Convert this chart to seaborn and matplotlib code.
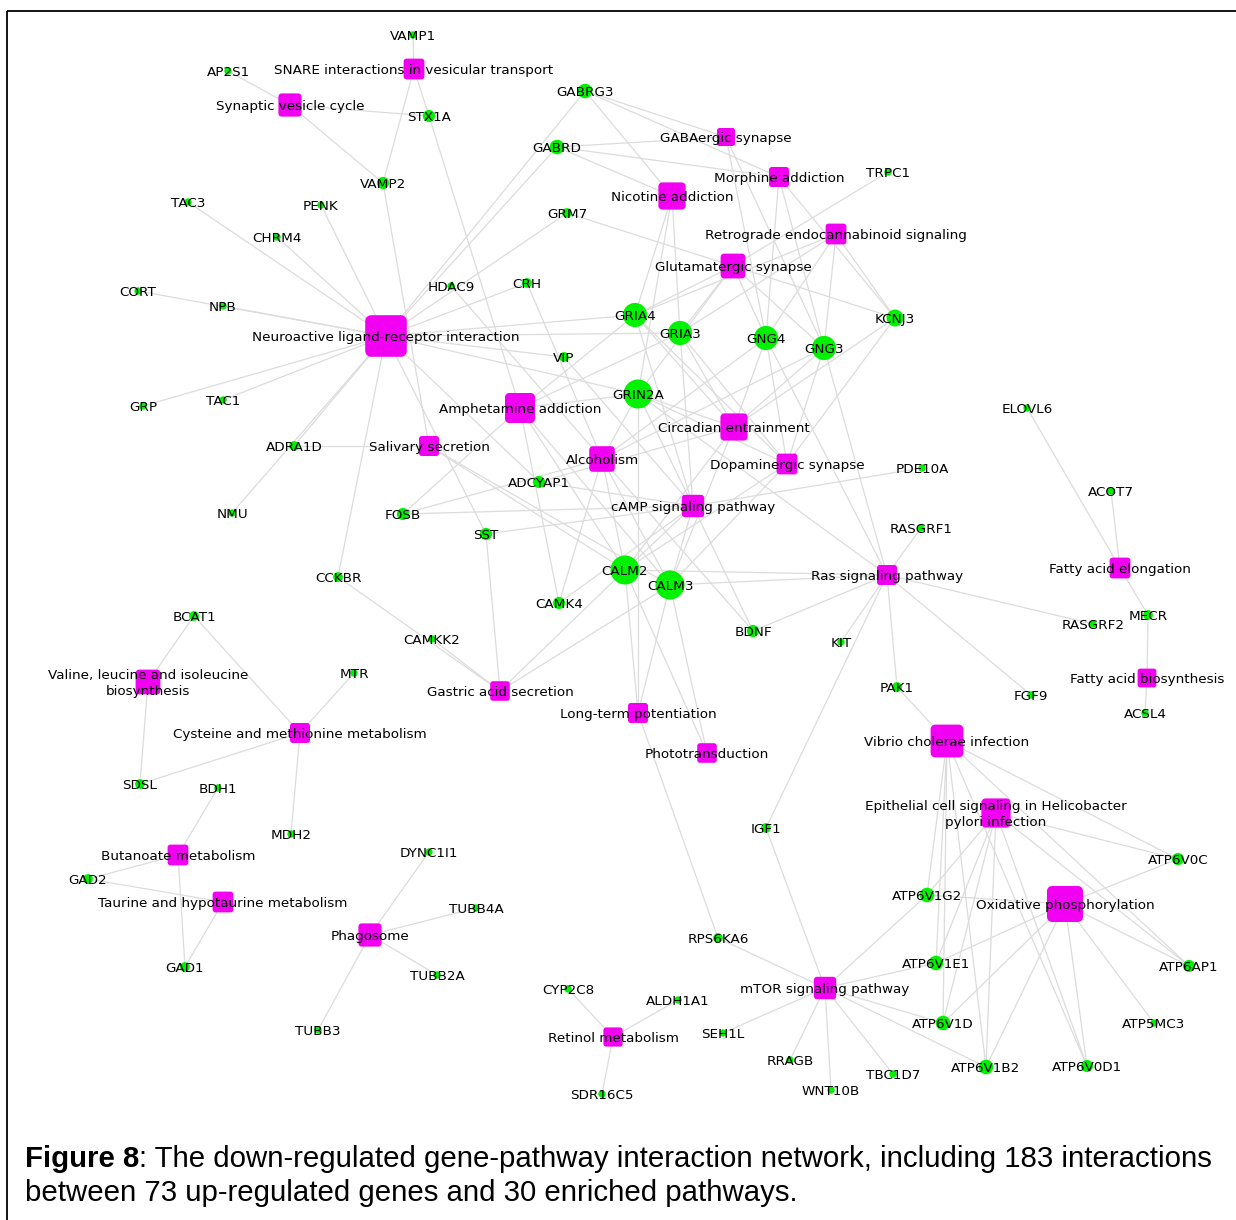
import numpy as np
import pandas as pd
import matplotlib.pyplot as plt
import seaborn as sns
from matplotlib.patches import Rectangle

# gene nodes: layout coordinates of the network view (pixels)
gene_names = ["VAMP1", "AP2S1", "STX1A", "VAMP2", "TAC3", "PENK", "CHRM4", "CORT", "NPB",
              "GRP", "TAC1", "ADRA1D", "NMU", "CCKBR", "BCAT1", "MTR", "SDSL", "BDH1", "MDH2",
              "GAD2", "GAD1", "DYNC1I1", "TUBB4A", "TUBB2A", "TUBB3", "GABRG3", "GABRD",
              "GRM7", "HDAC9", "CRH", "VIP", "GRIA4", "GRIA3", "GNG4", "GNG3", "KCNJ3", "TRPC1",
              "GRIN2A", "ADCYAP1", "FOSB", "SST", "CALM2", "CALM3", "CAMK4", "CAMKK2", "BDNF",
              "PDE10A", "RASGRF1", "KIT", "PAK1", "FGF9", "RASGRF2", "ELOVL6", "ACOT7", "MECR",
              "ACSL4", "IGF1", "RPS6KA6", "CYP2C8", "ALDH1A1", "SEH1L", "RRAGB", "WNT10B",
              "TBC1D7", "SDR16C5", "ATP6V1G2", "ATP6V1E1", "ATP6V1D", "ATP6V1B2", "ATP6V0D1",
              "ATP6V0C", "ATP6AP1", "ATP5MC3"]
gene_x = [413, 228, 429, 383, 188, 321, 277, 138, 223,
          143, 223, 294, 232, 338, 194, 354, 140, 218, 291,
          88, 185, 429, 476, 437, 318, 585, 557,
          567, 451, 527, 564, 635, 680, 766, 824, 895, 888,
          638, 539, 403, 486, 625, 670, 559, 432, 753,
          922, 921, 841, 897, 1031, 1093, 1027, 1111, 1148,
          1145, 766, 718, 568, 678, 723, 790, 831,
          893, 602, 927, 936, 943, 986, 1087,
          1178, 1189, 1154]
gene_y = [35, 71, 116, 183, 202, 205, 237, 291, 306,
          406, 400, 446, 513, 577, 616, 673, 784, 788, 834,
          879, 967, 852, 908, 975, 1030, 91, 147,
          213, 286, 283, 357, 315, 333, 338, 348, 318, 172,
          394, 482, 514, 534, 570, 585, 603, 639, 631,
          468, 528, 642, 687, 695, 624, 408, 491, 615,
          713, 828, 938, 989, 1000, 1033, 1060, 1090,
          1074, 1094, 895, 963, 1023, 1067, 1066,
          859, 966, 1023]

# pathway nodes
pathway_names = ["SNARE interactions in vesicular transport", "Synaptic vesicle cycle",
                 "Neuroactive ligand-receptor interaction", "Nicotine addiction",
                 "GABAergic synapse", "Morphine addiction", "Retrograde endocannabinoid signaling",
                 "Glutamatergic synapse", "Circadian entrainment", "Dopaminergic synapse",
                 "cAMP signaling pathway", "Amphetamine addiction", "Alcoholism",
                 "Salivary secretion", "Gastric acid secretion", "Long-term potentiation",
                 "Phototransduction", "Ras signaling pathway", "Fatty acid elongation",
                 "Fatty acid biosynthesis", "Valine, leucine and isoleucine\nbiosynthesis",
                 "Cysteine and methionine metabolism", "Butanoate metabolism",
                 "Taurine and hypotaurine metabolism", "Phagosome", "Retinol metabolism",
                 "mTOR signaling pathway", "Vibrio cholerae infection",
                 "Epithelial cell signaling in Helicobacter\npylori infection",
                 "Oxidative phosphorylation"]
pathway_x = [414, 290, 386, 672, 726, 779, 836, 733, 734, 787,
             693, 520, 602, 429, 500, 638, 707, 887, 1120, 1147,
             148, 300, 178, 223, 370, 613, 825, 947, 996, 1065]
pathway_y = [69, 105, 336, 196, 137, 177, 234, 266, 427, 464,
             506, 408, 459, 446, 691, 713, 753, 575, 568, 678,
             682, 733, 855, 902, 935, 1037, 988, 741, 813, 904]
pathway_score = [2.6, 2.9, 5.2, 3.4, 2.25, 2.5, 2.6, 3.1, 3.4, 2.6,
                 2.8, 3.75, 3.2, 2.5, 2.45, 2.5, 2.45, 2.5, 2.6, 2.35,
                 3.1, 2.5, 2.6, 2.6, 2.9, 2.4, 2.8, 4.1, 3.65, 4.5]

# genes of each pathway (same order as pathway_names)
pathway_members = [
    "VAMP1 VAMP2 STX1A",
    "AP2S1 VAMP2 STX1A",
    "TAC3 PENK CHRM4 CORT NPB GRP TAC1 ADRA1D NMU CCKBR GABRG3 GABRD GRM7 CRH VIP GRIA4 GRIA3 GRIN2A SST ADCYAP1",
    "GABRD GABRG3 GRIA4 GRIA3 GRIN2A",
    "GABRD GABRG3 GNG4 GNG3",
    "GABRD GABRG3 GNG4 GNG3 KCNJ3",
    "GRIA4 GRIA3 GNG4 GNG3 KCNJ3",
    "GRIA4 GRIA3 GRIN2A GNG4 GNG3 GRM7 TRPC1 KCNJ3",
    "GRIA4 GRIA3 GRIN2A GNG4 GNG3 CALM2 CALM3 KCNJ3 ADCYAP1",
    "GRIA4 GRIA3 GRIN2A GNG4 GNG3 CALM2 CALM3 KCNJ3",
    "GRIA4 GRIA3 GRIN2A CALM2 CALM3 PDE10A VIP SST ADCYAP1 FOSB CAMK4 BDNF",
    "STX1A GRIA4 GRIA3 GRIN2A CALM2 CALM3 CAMK4 FOSB",
    "GRIN2A CALM2 CALM3 GNG4 GNG3 FOSB BDNF HDAC9 CAMK4 CRH",
    "ADRA1D VAMP2 CALM2 CALM3",
    "CALM2 CALM3 SST CCKBR CAMKK2",
    "GRIN2A CALM2 CALM3 RPS6KA6",
    "CALM2 CALM3",
    "CALM2 CALM3 GNG4 GNG3 RASGRF1 RASGRF2 KIT PAK1 FGF9 IGF1 GRIN2A BDNF",
    "ELOVL6 ACOT7 MECR",
    "MECR ACSL4",
    "BCAT1 SDSL",
    "BCAT1 MTR SDSL MDH2",
    "BDH1 GAD2 GAD1",
    "GAD2 GAD1",
    "DYNC1I1 TUBB4A TUBB2A TUBB3",
    "CYP2C8 ALDH1A1 SDR16C5",
    "IGF1 RPS6KA6 SEH1L RRAGB WNT10B TBC1D7 ATP6V1G2 ATP6V1E1 ATP6V1D ATP6V1B2",
    "ATP6V1G2 ATP6V1E1 ATP6V1D ATP6V1B2 ATP6V0D1 ATP6V0C ATP6AP1 PAK1",
    "ATP6V1G2 ATP6V1E1 ATP6V1D ATP6V1B2 ATP6V0D1 ATP6V0C ATP6AP1",
    "ATP6V1G2 ATP6V1E1 ATP6V1D ATP6V1B2 ATP6V0D1 ATP6V0C ATP6AP1 ATP5MC3",
]

caption_bold = "Figure 8"
caption_line1 = ": The down-regulated gene-pathway interaction network, including 183 interactions"
caption_line2 = "between 73 up-regulated genes and 30 enriched pathways."


# Build node and edge tables
genes = pd.DataFrame({"name": gene_names, "x": gene_x, "y": gene_y})
paths = pd.DataFrame({"name": pathway_names, "x": pathway_x, "y": pathway_y, "score": pathway_score})
gpos = genes.set_index("name")

rows = []
for i, (pname, members) in enumerate(zip(pathway_names, pathway_members)):
    for g in members.split():
        eid = f"{i}-{g}"
        rows.append({"edge": eid, "x": pathway_x[i], "y": pathway_y[i]})
        rows.append({"edge": eid, "x": gpos.loc[g, "x"], "y": gpos.loc[g, "y"]})
edges = pd.DataFrame(rows)

degree = pd.Series(" ".join(pathway_members).split()).value_counts()
genes["degree"] = genes["name"].map(degree).fillna(1)

# marker sizes (points^2); 1 px = 0.72 pt at 100 dpi
genes["s"] = ((5.0 + 2.4 * genes["degree"]) * 0.72) ** 2
paths["s"] = ((8.0 * paths["score"]) * 0.72) ** 2


def rounded_square(r=0.28, n=8):
    t = np.linspace(0, np.pi / 2, n)
    pts = []
    for cx, cy, a0 in [(1 - r, 1 - r, 0), (-1 + r, 1 - r, np.pi / 2),
                       (-1 + r, -1 + r, np.pi), (1 - r, -1 + r, 1.5 * np.pi)]:
        for a in a0 + t:
            pts.append((cx + r * np.cos(a), cy + r * np.sin(a)))
    return pts


sns.set_style("white")
plt.rcParams["font.family"] = ["DejaVu Sans"]
plt.rcParams["text.color"] = "black"

fig = plt.figure(figsize=(12.36, 12.20), dpi=100)
ax = fig.add_axes([0, 0, 1, 1])

sns.lineplot(data=edges, x="x", y="y", units="edge", estimator=None, sort=False,
             color="#dcdcdc", lw=0.9, ax=ax, legend=False, zorder=1)
sns.scatterplot(data=paths, x="x", y="y", s=paths["s"].values, marker=rounded_square(),
                color="#f200f2", edgecolor="none", linewidth=0, ax=ax, legend=False, zorder=2)
sns.scatterplot(data=genes, x="x", y="y", s=genes["s"].values, marker="o",
                color="#00f200", edgecolor="none", linewidth=0, ax=ax, legend=False, zorder=3)

# labels are centred on the nodes (nudged 1.5 px down to match cap-height centring)
for _, r in genes.iterrows():
    ax.text(r["x"], r["y"] + 1.5, r["name"], ha="center", va="center", fontsize=9.7,
            color="black", zorder=4)
for _, r in paths.iterrows():
    ax.text(r["x"], r["y"] + 1.5, r["name"], ha="center", va="center", fontsize=9.7,
            color="black", linespacing=1.25, multialignment="center", zorder=4)

# frame around the figure panel
ax.add_patch(Rectangle((7, 11), 1300, 1300, fill=False, ec="black", lw=1.3, zorder=5))

# caption
t1 = ax.text(25, 1167, caption_bold, fontsize=21.2, fontweight="bold", color="black",
             family="Liberation Sans", va="baseline", ha="left")
ax.annotate(caption_line1, xy=(1, 0), xycoords=t1, fontsize=21.2, color="black",
            family="Liberation Sans", va="bottom", ha="left")
ax.text(25, 1201, caption_line2, fontsize=21.2, family="Liberation Sans", color="black",
        va="baseline", ha="left")

ax.set_xlim(0, 1236)
ax.set_ylim(1220, 0)
ax.axis("off")

fig.savefig("out.png", dpi=100)
